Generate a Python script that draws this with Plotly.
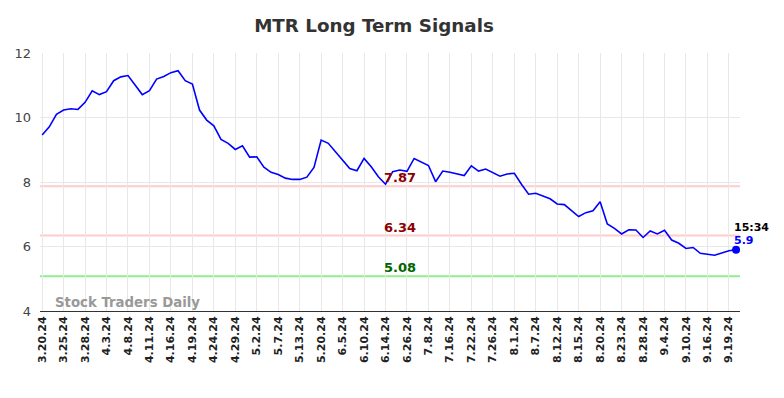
import plotly.graph_objects as go

dates = [
    "3.20.24", "3.21.24", "3.22.24", "3.25.24", "3.26.24", "3.27.24", "3.28.24",
    "4.1.24", "4.2.24", "4.3.24", "4.4.24", "4.5.24", "4.8.24", "4.9.24", "4.10.24",
    "4.11.24", "4.12.24", "4.15.24", "4.16.24", "4.17.24", "4.18.24", "4.19.24",
    "4.22.24", "4.23.24", "4.24.24", "4.25.24", "4.26.24", "4.29.24", "4.30.24",
    "5.1.24", "5.2.24", "5.3.24", "5.6.24", "5.7.24", "5.8.24", "5.9.24", "5.13.24",
    "5.14.24", "5.15.24", "5.20.24", "5.21.24", "5.22.24", "6.5.24", "6.6.24",
    "6.7.24", "6.10.24", "6.11.24", "6.12.24", "6.14.24", "6.17.24", "6.25.24",
    "6.26.24", "7.1.24", "7.5.24", "7.8.24", "7.10.24", "7.12.24", "7.16.24",
    "7.18.24", "7.19.24", "7.22.24", "7.23.24", "7.24.24", "7.26.24", "7.29.24",
    "7.31.24", "8.1.24", "8.2.24", "8.6.24", "8.7.24", "8.8.24", "8.9.24", "8.12.24",
    "8.13.24", "8.14.24", "8.15.24", "8.16.24", "8.19.24", "8.20.24", "8.21.24",
    "8.22.24", "8.23.24", "8.26.24", "8.27.24", "8.28.24", "8.29.24", "8.30.24",
    "9.4.24", "9.5.24", "9.9.24", "9.10.24", "9.11.24", "9.13.24", "9.16.24",
    "9.17.24", "9.18.24", "9.19.24", "9.20.24",
]

prices = [
    9.46, 9.71, 10.10, 10.23, 10.27, 10.25, 10.47, 10.83, 10.71, 10.80,
    11.14, 11.26, 11.30, 11.01, 10.71, 10.83, 11.19, 11.27, 11.39, 11.45,
    11.14, 11.04, 10.23, 9.92, 9.74, 9.32, 9.20, 9.01, 9.12, 8.77,
    8.78, 8.46, 8.30, 8.23, 8.12, 8.08, 8.08, 8.15, 8.45, 9.30,
    9.20, 8.94, 8.68, 8.42, 8.35, 8.73, 8.47, 8.16, 7.93, 8.32,
    8.37, 8.33, 8.73, 8.61, 8.51, 8.01, 8.34, 8.30, 8.25, 8.20,
    8.50, 8.34, 8.40, 8.29, 8.18, 8.25, 8.27, 7.93, 7.62, 7.65,
    7.57, 7.48, 7.32, 7.30, 7.11, 6.93, 7.05, 7.11, 7.39, 6.70,
    6.56, 6.39, 6.52, 6.51, 6.28, 6.48, 6.39, 6.50, 6.20, 6.10,
    5.94, 5.97, 5.79, 5.76, 5.73, 5.80, 5.87, 5.90,
]

tick_labels = dates[::3]
y_ticks = [4, 6, 8, 10, 12]

levels = [7.87, 6.34, 5.08]
level_line_colors = ["#ffcccc", "#ffcccc", "#90ee90"]
level_text_colors = ["#8b0000", "#8b0000", "#006400"]

last_time = "15:34"
title = "MTR Long Term Signals"
watermark = "Stock Traders Daily"

n = len(prices)
label_idx = 50

fig = go.Figure()

fig.add_trace(go.Scatter(
    x=dates, y=prices, mode="lines",
    line=dict(color="#0000ff", width=1.6), showlegend=False,
))

for lv, lc in zip(levels, level_line_colors):
    fig.add_shape(
        type="line", xref="paper", x0=0, x1=1, y0=lv, y1=lv,
        line=dict(color=lc, width=2), layer="below",
    )

fig.add_trace(go.Scatter(
    x=[dates[-1]], y=[prices[-1]], mode="markers",
    marker=dict(color="#0000ff", size=8), showlegend=False,
))

for lv, tc in zip(levels, level_text_colors):
    fig.add_annotation(
        x=dates[label_idx], y=lv, text=f"<b>{lv:.2f}</b>", showarrow=False,
        yanchor="bottom", yshift=-1, font=dict(color=tc, size=13, family="DejaVu Sans"),
    )

fig.add_annotation(
    x=dates[-1], y=prices[-1], text=f"<b>{last_time}</b>", showarrow=False,
    xanchor="left", yanchor="bottom", xshift=-4, yshift=14,
    font=dict(color="#000000", size=11, family="DejaVu Sans"),
)
fig.add_annotation(
    x=dates[-1], y=prices[-1], text=f"<b>{prices[-1]:.1f}</b>", showarrow=False,
    xanchor="left", yanchor="bottom", xshift=-4, yshift=1,
    font=dict(color="#0000ff", size=11, family="DejaVu Sans"),
)
fig.add_annotation(
    xref="paper", yref="paper", x=0.0182, y=0.0, text=f"<b>{watermark}</b>",
    showarrow=False, xanchor="left", yanchor="bottom", yshift=-1,
    font=dict(color="#999999", size=13.3, family="DejaVu Sans"),
)

fig.update_layout(
    width=776, height=390,
    margin=dict(l=32, r=44, t=45, b=87, autoexpand=False),
    paper_bgcolor="white", plot_bgcolor="white",
    title=dict(text=f"<b>{title}</b>", x=0.4716, xanchor="center", y=0.954, yanchor="middle",
               font=dict(size=18.3, color="#333333", family="DejaVu Sans")),
    font=dict(family="DejaVu Sans", color="#333333"),
)
fig.update_xaxes(
    type="category", categoryorder="array", categoryarray=dates,
    range=[-0.3, n - 0.45], automargin=False,
    tickmode="array", tickvals=tick_labels,
    ticktext=[f"<b>{t}</b>" for t in tick_labels],
    tickangle=-90, tickfont=dict(size=11, color="#222222", family="DejaVu Sans"),
    showgrid=True, gridcolor="#e8e8e8", gridwidth=1,
    showline=True, linecolor="#333333", linewidth=1, ticks="",
    zeroline=False,
)
fig.update_yaxes(
    range=[4, 12], tickvals=y_ticks, ticks="", automargin=False,
    tickfont=dict(size=13, color="#444444", family="DejaVu Sans"),
    showgrid=True, gridcolor="#e8e8e8", gridwidth=1, zeroline=False,
    showline=False, ticklabelstandoff=8,
)

fig.write_html("out.html")
